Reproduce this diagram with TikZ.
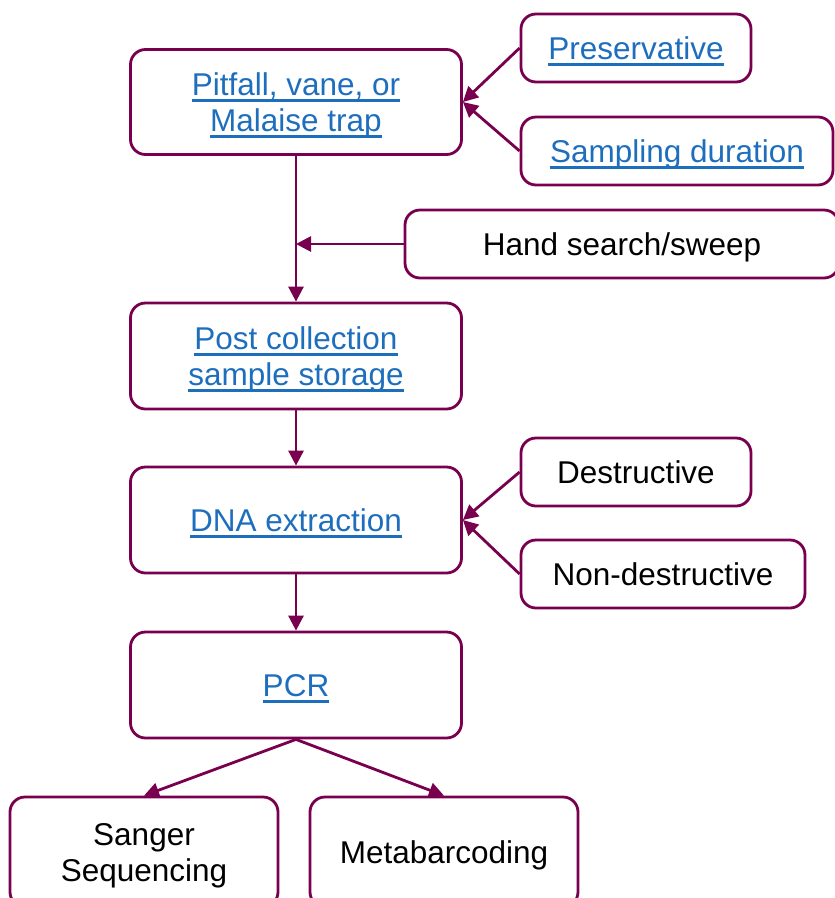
\documentclass[tikz,border=0pt]{standalone}
\usepackage{fontspec}
\setmainfont{Liberation Sans}
\usetikzlibrary{arrows.meta}
\definecolor{flowline}{RGB}{120,0,78}
\definecolor{linkblue}{RGB}{30,110,190}
\newcommand{\hlink}[1]{\textcolor{linkblue}{\setbox0\hbox{#1}\rlap{\raisebox{-7pt}[0pt][0pt]{\rule{\wd0}{3pt}}}\box0}}

\begin{document}
\begin{tikzpicture}[x=1pt, y=-1pt,
      box/.style={rectangle, rounded corners=15pt, draw=flowline, line width=2.8pt, inner sep=0pt, align=center, text depth=0pt, minimum width=331pt, minimum height=106pt},
      side/.style={box, minimum height=68pt},
      flow/.style={draw=flowline, line width=2.8pt, ->},
      >={Triangle[length=15pt, width=15pt]},
      font=\fontsize{31.5}{36}\selectfont]
      \useasboundingbox (0,0) rectangle (835,898);
      \node[box, minimum height=105pt] (trap) at (296,102) {\hlink{Pitfall, vane, or}\\\hlink{Malaise trap}};
      \node[box, below of=trap, node distance=254pt] (store) {\hlink{Post collection}\\\hlink{sample storage}};
      \node[box, below of=store, node distance=164pt] (dna) {\hlink{DNA extraction}};
      \node[box, below of=dna, node distance=165pt] (pcr) {\hlink{PCR}};

      \node[box, minimum width=268pt, minimum height=110pt, below of=pcr, node distance=167pt, xshift=-152pt] (sanger) {Sanger\\Sequencing};
      \node[box, minimum width=268pt, minimum height=110pt, below of=pcr, node distance=167pt, xshift=148pt] (meta) {Metabarcoding};

      \node[side, minimum width=230pt, right of=trap, node distance=340pt, yshift=54pt] (pres) {\hlink{Preservative}};
      \node[side, minimum width=312pt, right of=trap, node distance=381pt, yshift=-49pt] (dur) {\hlink{Sampling duration}};
      \node[side, minimum width=434pt, right of=store, node distance=326pt, yshift=112pt] (hand) {Hand search/sweep};
      \coordinate (join) at (trap |- hand);

      \node[side, minimum width=230pt, right of=dna, node distance=340pt, yshift=48pt] (destr) {Destructive};
      \node[side, minimum width=284pt, right of=dna, node distance=367pt, yshift=-54pt] (nondestr) {Non-destructive};

      \draw[flow] (pres.west) -- (trap.east);
      \draw[flow] (dur.west) -- (trap.east);
      \draw[flow] (trap) -- (store);
      \draw[flow] (hand) -- (join);
      \draw[flow] (store) -- (dna);
      \draw[flow] (destr.west) -- (dna.east);
      \draw[flow] (nondestr.west) -- (dna.east);
      \draw[flow] (dna) -- (pcr);
      \draw[flow] (pcr.south) -- (sanger.north);
      \draw[flow] (pcr.south) -- (meta.north);
    \end{tikzpicture}
\end{document}
